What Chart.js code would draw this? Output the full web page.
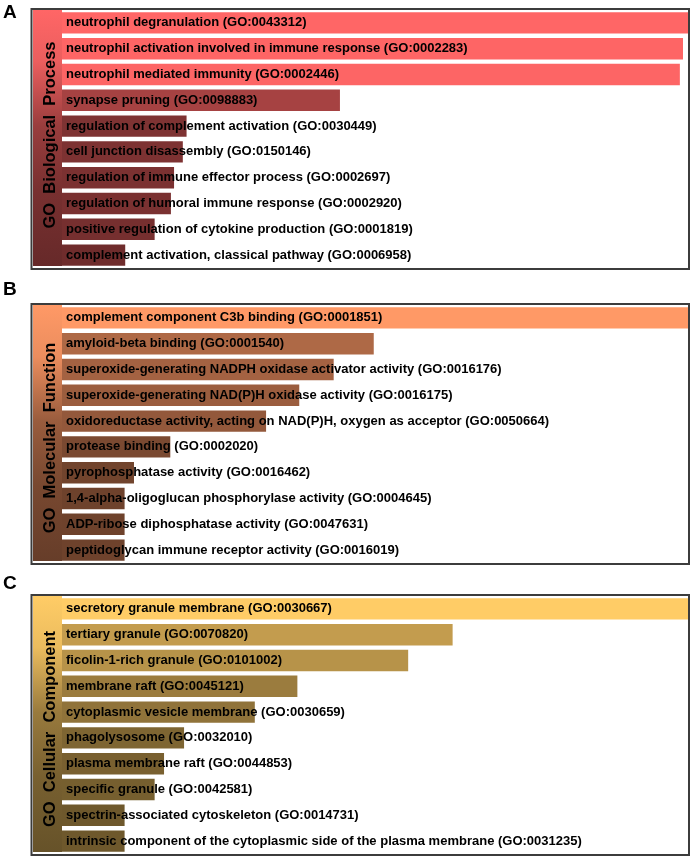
<!DOCTYPE html>
<html>
<head>
<meta charset="utf-8">
<script src="https://cdn.jsdelivr.net/npm/chart.js@4.4.1/dist/chart.umd.min.js"></script>
<style>
  body { margin: 0; background: #fff; }
  #wrap { position: relative; width: 692px; height: 858px; }
  canvas { position: absolute; left: 0; }
</style>
</head>
<body>
<div id="wrap">
  <canvas id="graficoA" width="692" height="280" style="top:0px"></canvas>
  <canvas id="graficoB" width="692" height="290" style="top:280px"></canvas>
  <canvas id="graficoC" width="692" height="288" style="top:570px"></canvas>
</div>
<script>
// datos (longitud relativa de la barra, max = 100)
var bpTerms = [
  'neutrophil degranulation (GO:0043312)',
  'neutrophil activation involved in immune response (GO:0002283)',
  'neutrophil mediated immunity (GO:0002446)',
  'synapse pruning (GO:0098883)',
  'regulation of complement activation (GO:0030449)',
  'cell junction disassembly (GO:0150146)',
  'regulation of immune effector process (GO:0002697)',
  'regulation of humoral immune response (GO:0002920)',
  'positive regulation of cytokine production (GO:0001819)',
  'complement activation, classical pathway (GO:0006958)'
];
var bpScores = [100, 99.2, 98.7, 44.4, 19.9, 19.3, 17.9, 17.4, 14.8, 10.1];

var mfTerms = [
  'complement component C3b binding (GO:0001851)',
  'amyloid-beta binding (GO:0001540)',
  'superoxide-generating NADPH oxidase activator activity (GO:0016176)',
  'superoxide-generating NAD(P)H oxidase activity (GO:0016175)',
  'oxidoreductase activity, acting on NAD(P)H, oxygen as acceptor (GO:0050664)',
  'protease binding (GO:0002020)',
  'pyrophosphatase activity (GO:0016462)',
  '1,4-alpha-oligoglucan phosphorylase activity (GO:0004645)',
  'ADP-ribose diphosphatase activity (GO:0047631)',
  'peptidoglycan immune receptor activity (GO:0016019)'
];
var mfScores = [100, 49.8, 43.4, 37.9, 32.6, 17.3, 11.5, 10.0, 10.0, 10.0];

var ccTerms = [
  'secretory granule membrane (GO:0030667)',
  'tertiary granule (GO:0070820)',
  'ficolin-1-rich granule (GO:0101002)',
  'membrane raft (GO:0045121)',
  'cytoplasmic vesicle membrane (GO:0030659)',
  'phagolysosome (GO:0032010)',
  'plasma membrane raft (GO:0044853)',
  'specific granule (GO:0042581)',
  'spectrin-associated cytoskeleton (GO:0014731)',
  'intrinsic component of the cytoplasmic side of the plasma membrane (GO:0031235)'
];
var ccScores = [100, 62.4, 55.3, 37.6, 30.8, 19.5, 16.3, 14.8, 10.0, 10.0];

var FUENTE = '"Liberation Sans", Arial, sans-serif';

function sombra(rgb, f) {
  return 'rgb(' + Math.round(rgb[0] * f) + ',' + Math.round(rgb[1] * f) + ',' + Math.round(rgb[2] * f) + ')';
}

function pluginPanel(panel) {
  return {
    id: 'panel' + panel.letra,
    beforeDraw: function (chart) {
      var ctx = chart.ctx, area = chart.chartArea;
      ctx.save();
      // letra del panel
      ctx.fillStyle = '#000';
      ctx.font = 'bold 19px ' + FUENTE;
      ctx.textAlign = 'left';
      ctx.textBaseline = 'alphabetic';
      ctx.fillText(panel.letra, 3, panel.letraY);
      // marco
      ctx.strokeStyle = '#3c3c3c';
      ctx.lineWidth = 2;
      ctx.strokeRect(31.5, area.top - 1, 689 - 31.5, area.bottom - area.top + 2);
      // franja lateral con degradado
      var grad = ctx.createLinearGradient(0, area.top, 0, area.bottom);
      grad.addColorStop(0, sombra(panel.rgb, 1));
      grad.addColorStop(0.2, sombra(panel.rgb, 0.92));
      grad.addColorStop(0.45, sombra(panel.rgb, 0.6));
      grad.addColorStop(0.7, sombra(panel.rgb, 0.47));
      grad.addColorStop(1, sombra(panel.rgb, 0.4));
      ctx.fillStyle = grad;
      ctx.fillRect(33, area.top, area.left - 33, area.bottom - area.top - 2);
      // titulo vertical
      ctx.translate(55, (area.top + area.bottom) / 2 + panel.desplazo);
      ctx.rotate(-Math.PI / 2);
      ctx.fillStyle = '#000';
      ctx.font = 'bold 16.5px ' + FUENTE;
      ctx.textAlign = 'center';
      ctx.fillText(panel.titulo, 0, 0);
      ctx.restore();
    },
    afterDatasetsDraw: function (chart) {
      var ctx = chart.ctx;
      var meta = chart.getDatasetMeta(0);
      ctx.save();
      ctx.fillStyle = '#000';
      ctx.font = 'bold 13px ' + FUENTE;
      ctx.textAlign = 'left';
      ctx.textBaseline = 'middle';
      meta.data.forEach(function (bar, i) {
        ctx.fillText(chart.data.labels[i], bar.base + 4, bar.y);
      });
      ctx.restore();
    }
  };
}

function crearPanel(id, panel) {
  var colores = panel.valores.map(function (v) {
    return sombra(panel.rgb, 0.37 + 0.63 * v / 100);
  });
  return new Chart(document.getElementById(id).getContext('2d'), {
    type: 'bar',
    data: {
      labels: panel.terminos,
      datasets: [{
        data: panel.valores,
        backgroundColor: colores,
        borderWidth: 0,
        barPercentage: 0.83,
        categoryPercentage: 1
      }]
    },
    options: {
      indexAxis: 'y',
      responsive: false,
      animation: false,
      devicePixelRatio: 1,
      layout: { padding: { left: 62, right: 4, top: panel.arriba, bottom: panel.abajo } },
      scales: {
        x: { display: false, min: 0, max: 100 },
        y: { display: false }
      },
      plugins: { legend: { display: false }, tooltip: { enabled: false } }
    },
    plugins: [pluginPanel(panel)]
  });
}

crearPanel('graficoA', {
  letra: 'A', letraY: 18, titulo: 'GO  Biological  Process', rgb: [255, 102, 102],
  terminos: bpTerms, valores: bpScores, arriba: 10, abajo: 12, desplazo: -4
});
crearPanel('graficoB', {
  letra: 'B', letraY: 15, titulo: 'GO  Molecular  Function', rgb: [255, 153, 102],
  terminos: mfTerms, valores: mfScores, arriba: 25, abajo: 7, desplazo: 4
});
crearPanel('graficoC', {
  letra: 'C', letraY: 19, titulo: 'GO  Cellular  Component', rgb: [255, 204, 102],
  terminos: ccTerms, valores: ccScores, arriba: 26, abajo: 4, desplazo: 4
});
</script>
</body>
</html>
